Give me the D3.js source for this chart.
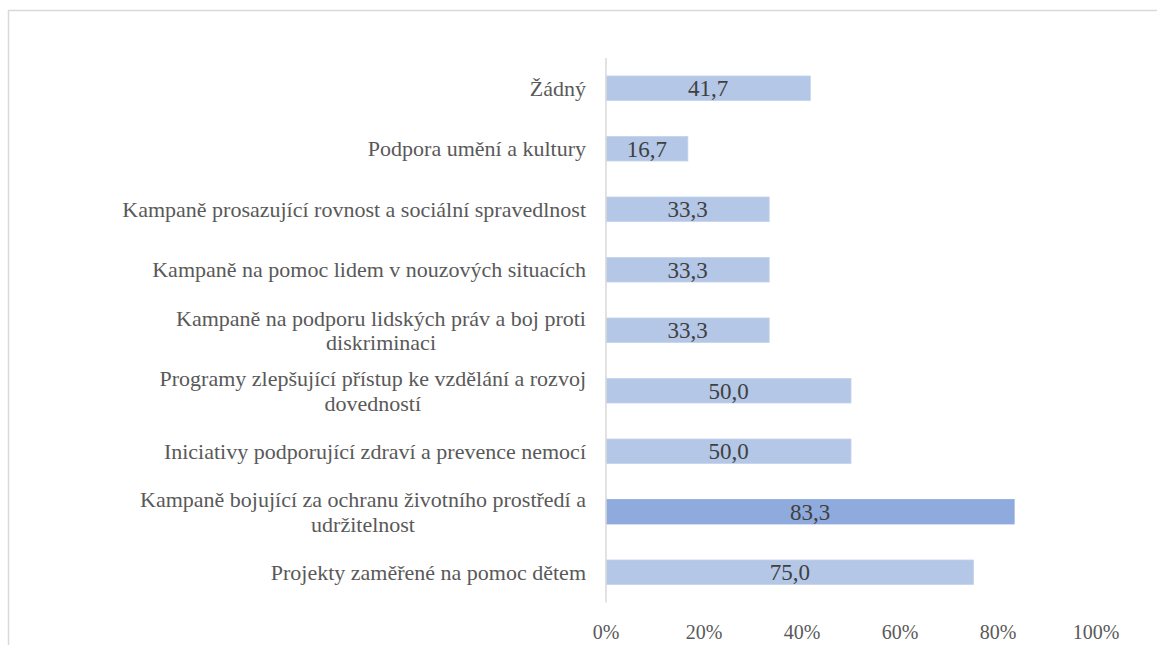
<!DOCTYPE html>
<html>
<head>
<meta charset="utf-8">
<script src="https://cdn.jsdelivr.net/npm/d3@7"></script>
<style>
  html, body { margin: 0; padding: 0; background: #fff; }
  svg { display: block; }
</style>
</head>
<body>
<svg id="chart" width="1157" height="645"></svg>
<script>
// Categories, top to bottom; "\n" marks a line break in the axis label
const categories = [
  "Žádný",
  "Podpora umění a kultury",
  "Kampaně prosazující rovnost a sociální spravedlnost",
  "Kampaně na pomoc lidem v nouzových situacích",
  "Kampaně na podporu lidských práv a boj proti\ndiskriminaci",
  "Programy zlepšující přístup ke vzdělání a rozvoj\ndovedností",
  "Iniciativy podporující zdraví a prevence nemocí",
  "Kampaně bojující za ochranu životního prostředí a\nudržitelnost",
  "Projekty zaměřené na pomoc dětem"
];
const values = [41.7, 16.7, 33.3, 33.3, 33.3, 50.0, 50.0, 83.3, 75.0];
const highlighted = [false, false, false, false, false, false, false, true, false];
const xTicks = [0, 20, 40, 60, 80, 100];

const svg = d3.select("#chart");

const x = d3.scaleLinear().domain([0, 100]).range([606, 1096]);
const y = d3.scaleBand().domain(categories).range([58, 602.5])
  .paddingInner(0.595).paddingOuter(0.2975);

// Category labels: each line its own text, right block edge at 586
categories.forEach(c => {
  const lines = c.split("\n");
  const cy = y(c) + y.bandwidth() / 2;
  const lh = 24.5;
  lines.forEach((ln, k) => {
    const t = svg.append("text")
      .style("font-family", '"Liberation Serif"')
      .attr("font-size", 22)
      .attr("fill", "#595959")
      .attr("y", cy + (k - (lines.length - 1) / 2) * lh + 7.5)
      .text(ln);
    if (lines.length === 1 || k === 0) {
      t.attr("x", 586).attr("text-anchor", "end");
    } else {
      t.attr("class", "cont").attr("data-first", lines[0]);
    }
  });
});

// Percentage axis labels
xTicks.forEach(v => {
  svg.append("text")
    .style("font-family", '"Liberation Serif"')
    .attr("font-size", 20)
    .attr("fill", "#595959")
    .attr("x", x(v))
    .attr("y", 639)
    .attr("text-anchor", "middle")
    .text(v + "%");
});

// Bars
svg.append("g").selectAll("rect")
  .data(categories)
  .join("rect")
  .attr("x", x(0))
  .attr("y", d => y(d))
  .attr("width", (d, i) => x(values[i]) - x(0))
  .attr("height", y.bandwidth())
  .attr("fill", (d, i) => highlighted[i] ? "#8faadc" : "#b4c7e7")
  .attr("stroke", (d, i) => highlighted[i] ? "#8faadc" : "#c3d2ec")
  .attr("stroke-width", 0.8);

// Value labels centred in the bars
categories.forEach((c, i) => {
  svg.append("text")
    .style("font-family", '"Liberation Serif"')
    .attr("font-size", 23)
    .attr("fill", "#404040")
    .attr("x", (x(0) + x(values[i])) / 2)
    .attr("y", y(c) + y.bandwidth() / 2 + 8)
    .attr("text-anchor", "middle")
    .text(d3.format(".1f")(values[i]).replace(".", ","));
});

// Category axis line
svg.append("line")
  .attr("x1", x(0)).attr("x2", x(0))
  .attr("y1", 58).attr("y2", 602.5)
  .attr("stroke", "#d9d9d9")
  .attr("stroke-width", 1.5);

// Outer chart frame
svg.append("rect")
  .attr("x", 8.5).attr("y", 10.5)
  .attr("width", 1160).attr("height", 650)
  .attr("fill", "none")
  .attr("stroke", "#d9d9d9")
  .attr("stroke-width", 1.5);

// Second lines of wrapped labels: centred under the first line once laid out
requestAnimationFrame(() => {
  svg.selectAll("text.cont").each(function () {
    const first = svg.selectAll("text").filter(function () {
      return this.textContent === this.parentNode && false;
    });
    const firstText = this.getAttribute("data-first");
    let w = 0;
    svg.selectAll("text").each(function () {
      if (this.textContent === firstText) w = this.getComputedTextLength();
    });
    d3.select(this).attr("x", 586 - w / 2).attr("text-anchor", "middle");
  });
});
</script>
</body>
</html>
